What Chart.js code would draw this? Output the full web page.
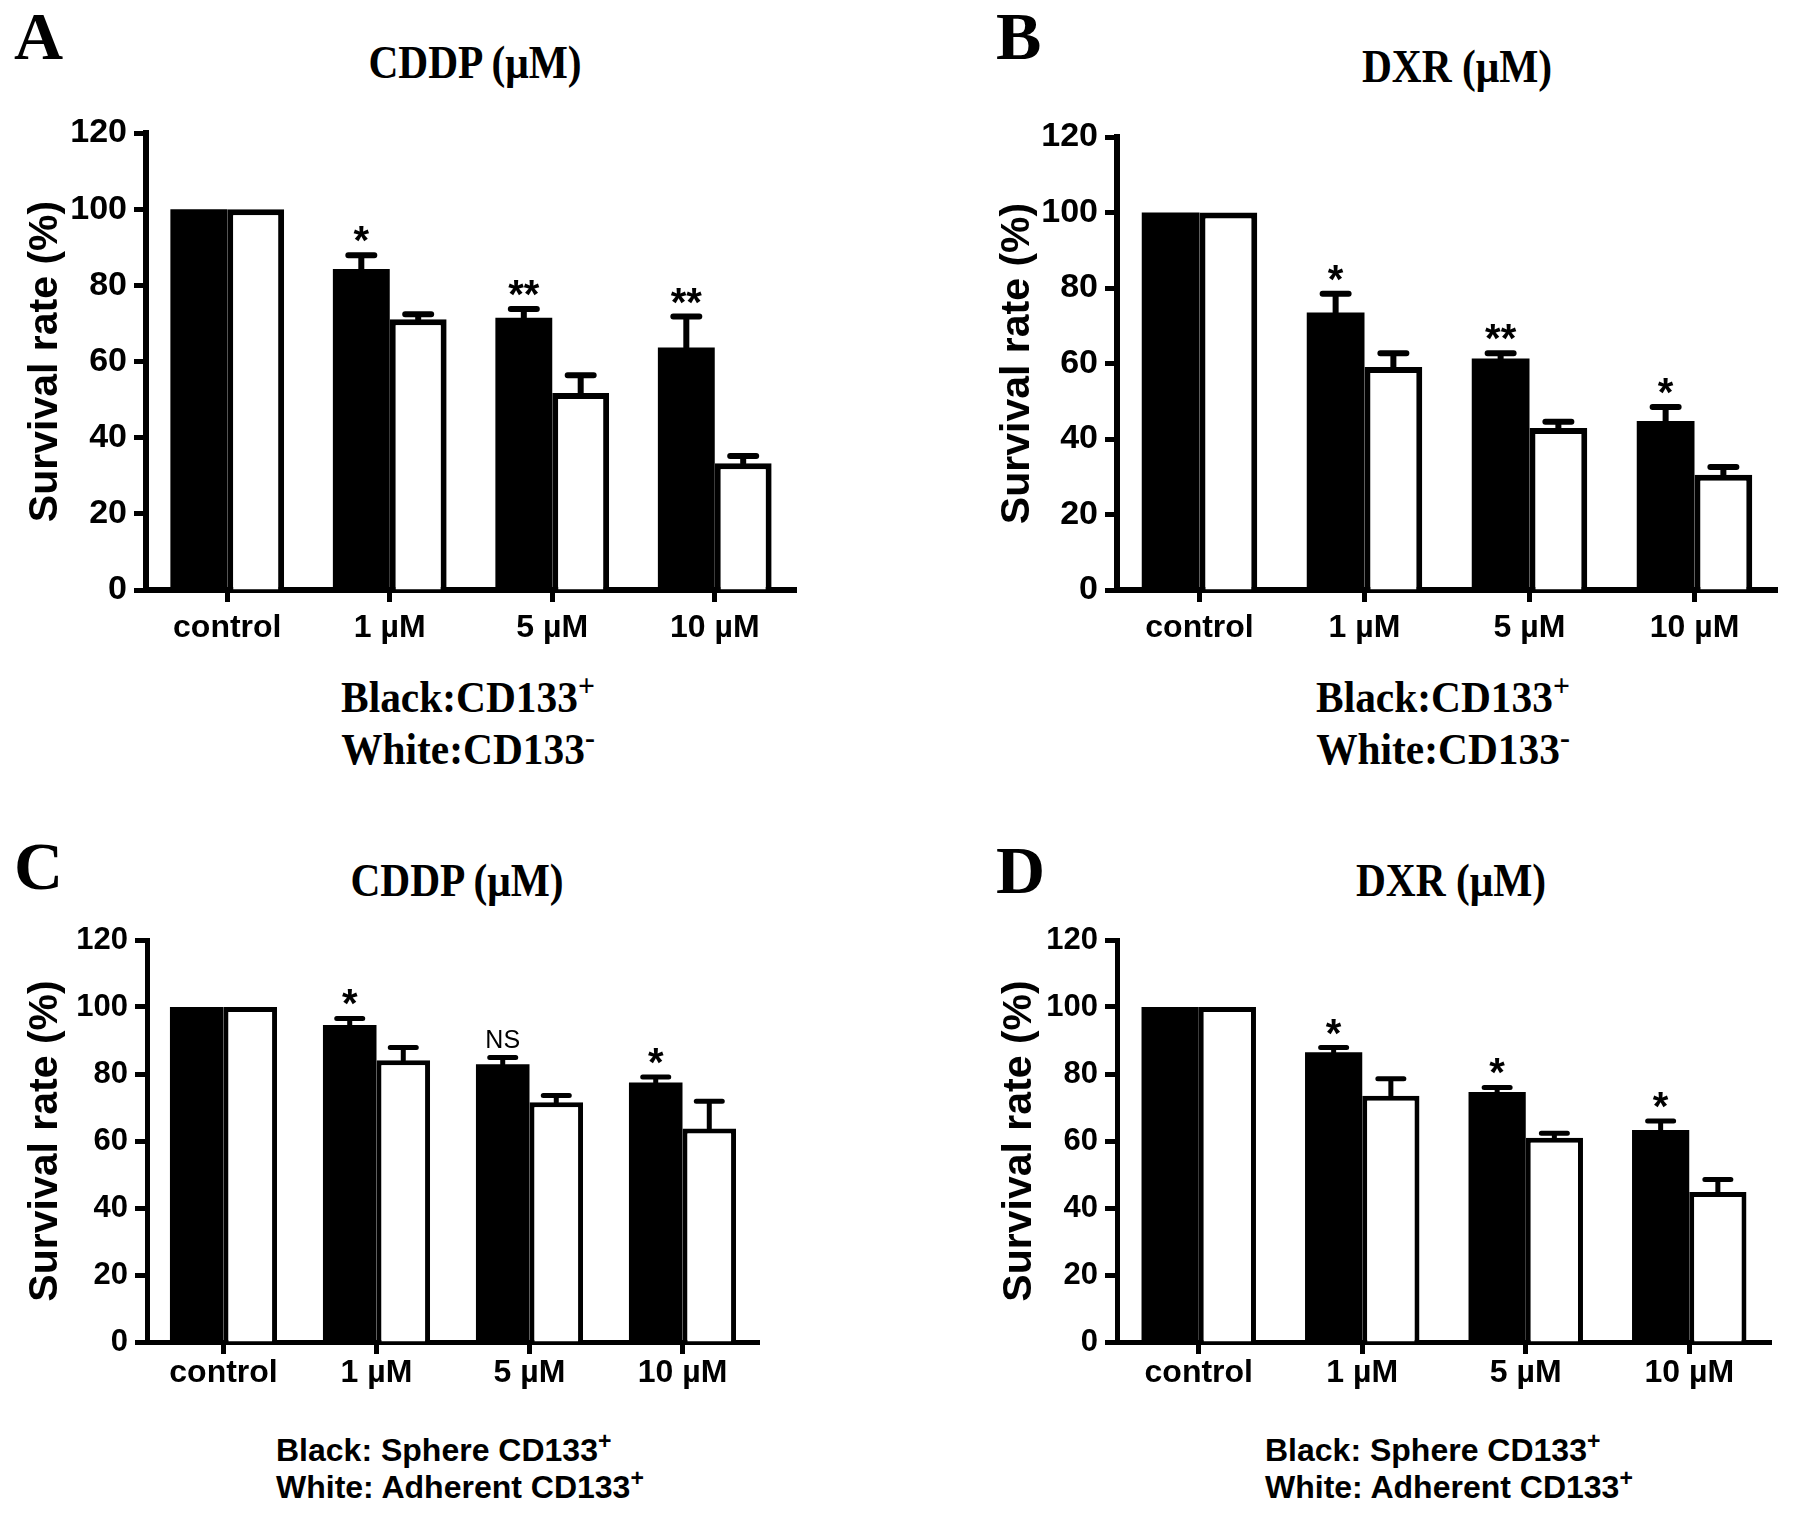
<!DOCTYPE html>
<html>
<head>
<meta charset="utf-8">
<script src="https://cdn.jsdelivr.net/npm/chart.js@4.4.1/dist/chart.umd.min.js"></script>
<style>
html, body { margin: 0; padding: 0; background: #fff; }
body { width: 1795px; height: 1519px; position: relative; overflow: hidden; color: #000; }
.box { position: absolute; }
.letter { position: absolute; font: bold 68px "Liberation Serif", "Times New Roman", serif; line-height: 1; }
.title { position: absolute; font: bold 46px "Liberation Serif", "Times New Roman", serif; line-height: 1; white-space: nowrap; transform: translate(-50%, -50%) scaleX(0.9); }
.serifkey { position: absolute; font: bold 45px "Liberation Serif", "Times New Roman", serif; line-height: 1; white-space: nowrap; transform: translate(-50%, -50%) scaleX(0.92); }
.sanskey { position: absolute; font: bold 32px "Liberation Sans", Arial, sans-serif; line-height: 1; white-space: nowrap; transform: translateY(-50%); }
.sup { font-size: 0.72em; position: relative; top: -0.5em; }
</style>
</head>
<body>

<div class="letter" style="left:14px; top:2px;">A</div>
<div class="letter" style="left:996px; top:2px;">B</div>
<div class="letter" style="left:14px; top:832px;">C</div>
<div class="letter" style="left:996px; top:836px;">D</div>

<div class="title" style="left:475px; top:63px;">CDDP (μM)</div>
<div class="title" style="left:1457px; top:67px;">DXR (μM)</div>
<div class="title" style="left:457px; top:881px;">CDDP (μM)</div>
<div class="title" style="left:1451px; top:881px;">DXR (μM)</div>

<div class="serifkey" style="left:468px; top:697px;">Black:CD133<span class="sup">+</span></div>
<div class="serifkey" style="left:468px; top:749px;">White:CD133<span class="sup">-</span></div>
<div class="serifkey" style="left:1443px; top:697px;">Black:CD133<span class="sup">+</span></div>
<div class="serifkey" style="left:1443px; top:749px;">White:CD133<span class="sup">-</span></div>

<div class="sanskey" style="left:276px; top:1450px;">Black: Sphere CD133<span class="sup">+</span></div>
<div class="sanskey" style="left:276px; top:1487px;">White: Adherent CD133<span class="sup">+</span></div>
<div class="sanskey" style="left:1265px; top:1450px;">Black: Sphere CD133<span class="sup">+</span></div>
<div class="sanskey" style="left:1265px; top:1487px;">White: Adherent CD133<span class="sup">+</span></div>

<div class="box" id="boxA"><canvas id="chartA"></canvas></div>
<div class="box" id="boxB"><canvas id="chartB"></canvas></div>
<div class="box" id="boxC"><canvas id="chartC"></canvas></div>
<div class="box" id="boxD"><canvas id="chartD"></canvas></div>

<script>
// categories and axis
const categories = ['control', '1 µM', '5 µM', '10 µM'];
const yMin = 0;
const yMax = 120;
const yStep = 20;
const yTitle = 'Survival rate (%)';

// A: CDDP, CD133+ (black) vs CD133- (white)
const cddpBlack = [100, 84.3, 71.5, 63.7];
const cddpBlackErr = [0, 3.6, 2.3, 8.1];
const cddpWhite = [100, 71.1, 51.7, 33.3];
const cddpWhiteErr = [0, 1.3, 4.7, 1.9];
const cddpMarks = ['', '*', '**', '**'];

// B: DXR, CD133+ vs CD133-
const dxrBlack = [100, 73.5, 61.3, 44.8];
const dxrBlackErr = [0, 5.0, 1.4, 3.7];
const dxrWhite = [100, 59.1, 42.9, 30.5];
const dxrWhiteErr = [0, 3.6, 1.7, 2.1];
const dxrMarks = ['', '*', '**', '*'];

// C: CDDP, sphere CD133+ vs adherent CD133+
const sphCddpBlack = [100, 94.6, 82.9, 77.5];
const sphCddpBlackErr = [0, 2.0, 2.0, 1.6];
const sphCddpWhite = [100, 84.1, 71.6, 63.7];
const sphCddpWhiteErr = [0, 3.8, 2.0, 8.2];
const sphCddpMarks = ['', '*', 'NS', '*'];

// D: DXR, sphere CD133+ vs adherent CD133+
const sphDxrBlack = [100, 86.5, 74.6, 63.3];
const sphDxrBlackErr = [0, 1.4, 1.4, 2.7];
const sphDxrWhite = [100, 73.5, 61.0, 44.8];
const sphDxrWhiteErr = [0, 5.1, 1.3, 3.7];
const sphDxrMarks = ['', '*', '*', '*'];

Chart.defaults.font.family = '"Liberation Sans", Arial, sans-serif';
Chart.defaults.color = '#000';

// error bars (upper only, prism style) + significance marks over the black bars
const errorBars = {
  id: 'errorBars',
  afterDatasetsDraw(chart, args, opts) {
    const ctx = chart.ctx;
    const y = chart.scales.y;
    chart.data.datasets.forEach((ds, i) => {
      const meta = chart.getDatasetMeta(i);
      meta.data.forEach((bar, j) => {
        const e = ds.errors[j];
        if (!e) return;
        const top = y.getPixelForValue(ds.data[j] + e);
        ctx.save();
        ctx.strokeStyle = '#000';
        ctx.lineWidth = opts.width;
        ctx.lineCap = 'round';
        ctx.beginPath();
        ctx.moveTo(bar.x, bar.y);
        ctx.lineTo(bar.x, top);
        ctx.moveTo(bar.x - opts.cap, top);
        ctx.lineTo(bar.x + opts.cap, top);
        ctx.stroke();
        ctx.restore();
      });
    });
    const ds0 = chart.data.datasets[0];
    const meta0 = chart.getDatasetMeta(0);
    opts.marks.forEach((m, j) => {
      if (!m) return;
      const bar = meta0.data[j];
      const top = y.getPixelForValue(ds0.data[j] + ds0.errors[j]);
      ctx.save();
      ctx.fillStyle = '#000';
      ctx.textAlign = 'center';
      ctx.textBaseline = 'alphabetic';
      if (m === 'NS') {
        ctx.font = 'normal 25px "Liberation Sans", Arial, sans-serif';
        ctx.fillText(m, bar.x, top - 10);
      } else {
        ctx.font = 'bold 40px "Liberation Sans", Arial, sans-serif';
        ctx.fillText(m, bar.x, top - 1);
      }
      ctx.restore();
    });
  }
};

const YW = 140, XH = 70, PT = 60, PR = 20;

function makePanel(boxId, canvasId, area, black, blackErr, white, whiteErr, marks, st) {
  const box = document.getElementById(boxId);
  box.style.left = (area.left - YW) + 'px';
  box.style.top = (area.top - PT) + 'px';
  box.style.width = (area.right - area.left + YW + PR) + 'px';
  box.style.height = (area.bottom - area.top + PT + XH) + 'px';

  return new Chart(document.getElementById(canvasId), {
    type: 'bar',
    data: {
      labels: categories,
      datasets: [
        { data: black, errors: blackErr, backgroundColor: '#000', borderColor: '#000', borderWidth: 0,
          categoryPercentage: 0.7, barPercentage: 1.0 },
        { data: white, errors: whiteErr, backgroundColor: '#fff', borderColor: '#000', borderWidth: st.line,
          categoryPercentage: 0.7, barPercentage: 1.0 }
      ]
    },
    options: {
      responsive: true,
      maintainAspectRatio: false,
      animation: false,
      layout: { padding: { top: PT, right: PR, left: 0, bottom: 0 } },
      plugins: {
        legend: { display: false },
        tooltip: { enabled: false },
        errorBars: { width: st.line, cap: 13, marks: marks }
      },
      scales: {
        x: {
          offset: true,
          grid: { offset: false, drawOnChartArea: false, drawTicks: true, tickLength: 12, tickWidth: 5, color: '#000' },
          border: { display: true, color: '#000', width: st.line },
          ticks: { color: '#000', font: { size: 32, weight: 'bold' }, padding: st.xPad, maxRotation: 0 },
          afterFit: s => { s.height = XH; }
        },
        y: {
          min: yMin,
          max: yMax,
          ticks: { stepSize: yStep, color: '#000', font: { size: st.yFont, weight: 'bold' }, padding: 7 },
          grid: { drawOnChartArea: false, drawTicks: true, tickLength: 12, tickWidth: 5, color: '#000' },
          border: { display: true, color: '#000', width: st.line },
          title: { display: true, text: yTitle, color: '#000',
                   font: { size: 41, weight: 'bold', lineHeight: 1 }, padding: { top: st.tPad, bottom: 0 } },
          afterFit: s => { s.width = YW; }
        }
      }
    },
    plugins: [errorBars]
  });
}

makePanel('boxA', 'chartA', { left: 146, right: 796, top: 133, bottom: 590 },
  cddpBlack, cddpBlackErr, cddpWhite, cddpWhiteErr, cddpMarks,
  { line: 6, yFont: 34, xPad: 7, tPad: 19 });
makePanel('boxB', 'chartB', { left: 1117, right: 1777, top: 137, bottom: 590 },
  dxrBlack, dxrBlackErr, dxrWhite, dxrWhiteErr, dxrMarks,
  { line: 6, yFont: 34, xPad: 7, tPad: 20 });
makePanel('boxC', 'chartC', { left: 147, right: 759, top: 940, bottom: 1342 },
  sphCddpBlack, sphCddpBlackErr, sphCddpWhite, sphCddpWhiteErr, sphCddpMarks,
  { line: 5, yFont: 31, xPad: 0, tPad: 18 });
makePanel('boxD', 'chartD', { left: 1117, right: 1771, top: 940, bottom: 1342 },
  sphDxrBlack, sphDxrBlackErr, sphDxrWhite, sphDxrWhiteErr, sphDxrMarks,
  { line: 5, yFont: 31, xPad: 0, tPad: 22 });
</script>
</body>
</html>
